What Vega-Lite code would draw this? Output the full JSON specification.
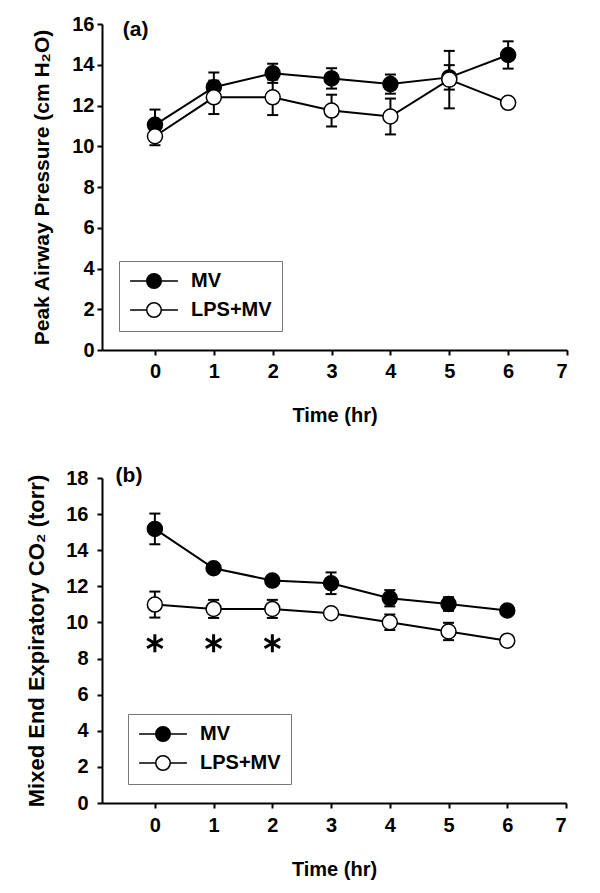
{
  "$schema": "https://vega.github.io/schema/vega-lite/v6.json",
  "padding": {"left": 25, "top": 14, "right": 5, "bottom": 5},
  "background": "white",
  "config": {
    "view": {"stroke": null},
    "font": "Liberation Sans",
    "axis": {
      "grid": false,
      "domainColor": "black", "domainWidth": 2,
      "tickColor": "black", "tickWidth": 2, "tickSize": 5,
      "labelFont": "Liberation Sans", "labelFontWeight": "bold", "labelFontSize": 20, "labelColor": "black", "labelOverlap": false,
      "titleFont": "Liberation Sans", "titleFontWeight": "bold", "titleFontSize": 20, "titleColor": "black", "titleLimit": 600
    },
    "legend": {
      "labelFont": "Liberation Sans", "labelFontWeight": "bold", "labelFontSize": 20, "labelColor": "black",
      "strokeColor": "#777777", "fillColor": "white", "padding": 10, "rowPadding": 7,
      "symbolType": "M -3.3 0 L -1 0 M 1 0 L 3.3 0 M -1 0 A 1 1 0 1 0 1 0 A 1 1 0 1 0 -1 0",
      "symbolSize": 210, "symbolStrokeColor": "black", "symbolStrokeWidth": 1.5,
      "symbolOffset": 15, "labelOffset": 27
    }
  },
  "datasets": {
    "a": [
      {"t": 0, "group": "MV", "v": 11.05, "lo": 10.3, "hi": 11.8},
      {"t": 1, "group": "MV", "v": 12.9, "lo": 12.18, "hi": 13.62},
      {"t": 2, "group": "MV", "v": 13.58, "lo": 13.11, "hi": 14.05},
      {"t": 3, "group": "MV", "v": 13.33, "lo": 12.83, "hi": 13.83},
      {"t": 4, "group": "MV", "v": 13.05, "lo": 12.58, "hi": 13.52},
      {"t": 5, "group": "MV", "v": 13.38, "lo": 12.78, "hi": 13.98},
      {"t": 6, "group": "MV", "v": 14.48, "lo": 13.81, "hi": 15.15},
      {"t": 0, "group": "LPS+MV", "v": 10.49, "lo": 10.05, "hi": 10.93},
      {"t": 1, "group": "LPS+MV", "v": 12.4, "lo": 11.58, "hi": 13.22},
      {"t": 2, "group": "LPS+MV", "v": 12.4, "lo": 11.53, "hi": 13.27},
      {"t": 3, "group": "LPS+MV", "v": 11.75, "lo": 10.97, "hi": 12.53},
      {"t": 4, "group": "LPS+MV", "v": 11.46, "lo": 10.58, "hi": 12.34},
      {"t": 5, "group": "LPS+MV", "v": 13.27, "lo": 11.86, "hi": 14.68},
      {"t": 6, "group": "LPS+MV", "v": 12.13, "lo": 11.93, "hi": 12.33}
    ],
    "b": [
      {"t": 0, "group": "MV", "v": 15.18, "lo": 14.33, "hi": 16.03},
      {"t": 1, "group": "MV", "v": 13.0, "lo": 12.8, "hi": 13.2},
      {"t": 2, "group": "MV", "v": 12.32, "lo": 12.12, "hi": 12.52},
      {"t": 3, "group": "MV", "v": 12.17, "lo": 11.57, "hi": 12.77},
      {"t": 4, "group": "MV", "v": 11.34, "lo": 10.89, "hi": 11.79},
      {"t": 5, "group": "MV", "v": 11.02, "lo": 10.64, "hi": 11.4},
      {"t": 6, "group": "MV", "v": 10.66, "lo": 10.46, "hi": 10.86},
      {"t": 0, "group": "LPS+MV", "v": 10.99, "lo": 10.27, "hi": 11.71},
      {"t": 1, "group": "LPS+MV", "v": 10.75, "lo": 10.25, "hi": 11.25},
      {"t": 2, "group": "LPS+MV", "v": 10.75, "lo": 10.25, "hi": 11.25},
      {"t": 3, "group": "LPS+MV", "v": 10.51, "lo": 10.31, "hi": 10.71},
      {"t": 4, "group": "LPS+MV", "v": 10.01, "lo": 9.58, "hi": 10.44},
      {"t": 5, "group": "LPS+MV", "v": 9.5, "lo": 9.02, "hi": 9.98},
      {"t": 6, "group": "LPS+MV", "v": 8.99, "lo": 8.79, "hi": 9.19}
    ]
  },
  "vconcat": [
    {
      "width": 465, "height": 326,
      "data": {"name": "a"},
      "encoding": {
        "x": {"field": "t", "type": "quantitative", "scale": {"domain": [-0.9, 7], "nice": false, "zero": false},
              "axis": {"values": [0, 1, 2, 3, 4, 5, 6, 7], "title": "Time (hr)", "labelPadding": 6, "titlePadding": 24}}
      },
      "layer": [
        {"mark": {"type": "line", "stroke": "black", "strokeWidth": 2},
         "encoding": {"y": {"field": "v", "type": "quantitative", "scale": {"domain": [0, 16], "nice": false},
                            "axis": {"values": [0, 2, 4, 6, 8, 10, 12, 14, 16], "labelOverlap": false, "title": "Peak Airway Pressure (cm H₂O)", "titleFontSize": 21, "labelPadding": 3, "titlePadding": 19}},
                      "detail": {"field": "group"}}},
        {"mark": {"type": "rule", "stroke": "black", "strokeWidth": 2},
         "encoding": {"y": {"field": "lo", "type": "quantitative", "axis": {"values": [0, 2, 4, 6, 8, 10, 12, 14, 16], "labelOverlap": false, "title": "Peak Airway Pressure (cm H₂O)", "titleFontSize": 21, "labelPadding": 3, "titlePadding": 19}}, "y2": {"field": "hi"}}},
        {"mark": {"type": "tick", "orient": "horizontal", "size": 11, "thickness": 2, "color": "black", "opacity": 1},
         "encoding": {"y": {"field": "lo", "type": "quantitative", "axis": {"values": [0, 2, 4, 6, 8, 10, 12, 14, 16], "labelOverlap": false, "title": "Peak Airway Pressure (cm H₂O)", "titleFontSize": 21, "labelPadding": 3, "titlePadding": 19}}}},
        {"mark": {"type": "tick", "orient": "horizontal", "size": 11, "thickness": 2, "color": "black", "opacity": 1},
         "encoding": {"y": {"field": "hi", "type": "quantitative", "axis": {"values": [0, 2, 4, 6, 8, 10, 12, 14, 16], "labelOverlap": false, "title": "Peak Airway Pressure (cm H₂O)", "titleFontSize": 21, "labelPadding": 3, "titlePadding": 19}}}},
        {"mark": {"type": "point", "shape": "circle", "size": 225, "stroke": "black", "strokeWidth": 1.5, "opacity": 1, "filled": true},
         "encoding": {"y": {"field": "v", "type": "quantitative", "axis": {"values": [0, 2, 4, 6, 8, 10, 12, 14, 16], "labelOverlap": false, "title": "Peak Airway Pressure (cm H₂O)", "titleFontSize": 21, "labelPadding": 3, "titlePadding": 19}},
                      "fill": {"field": "group", "type": "nominal", "scale": {"domain": ["MV", "LPS+MV"], "range": ["black", "white"]},
                               "legend": {"title": null, "orient": "none", "legendX": 17, "legendY": 237}}}},
        {"data": {"values": [{"t": -0.33, "v": 15.7, "txt": "(a)"}]},
         "mark": {"type": "text", "font": "Liberation Sans", "fontWeight": "bold", "fontSize": 21, "align": "center", "baseline": "middle", "color": "black"},
         "encoding": {"y": {"field": "v", "type": "quantitative", "axis": {"values": [0, 2, 4, 6, 8, 10, 12, 14, 16], "labelOverlap": false, "title": "Peak Airway Pressure (cm H₂O)", "titleFontSize": 21, "labelPadding": 3, "titlePadding": 19}}, "text": {"field": "txt"}}}
      ]
    },
    {
      "width": 464, "height": 325,
      "data": {"name": "b"},
      "encoding": {
        "x": {"field": "t", "type": "quantitative", "scale": {"domain": [-0.9, 7], "nice": false, "zero": false},
              "axis": {"values": [0, 1, 2, 3, 4, 5, 6, 7], "title": "Time (hr)", "labelPadding": 7, "titlePadding": 24}}
      },
      "layer": [
        {"mark": {"type": "line", "stroke": "black", "strokeWidth": 2},
         "encoding": {"y": {"field": "v", "type": "quantitative", "scale": {"domain": [0, 18], "nice": false},
                            "axis": {"values": [0, 2, 4, 6, 8, 10, 12, 14, 16, 18], "labelOverlap": false, "title": "Mixed End Expiratory CO₂ (torr)", "titleFontSize": 22, "labelPadding": 9, "titlePadding": 17}},
                      "detail": {"field": "group"}}},
        {"mark": {"type": "rule", "stroke": "black", "strokeWidth": 2},
         "encoding": {"y": {"field": "lo", "type": "quantitative", "axis": {"values": [0, 2, 4, 6, 8, 10, 12, 14, 16, 18], "labelOverlap": false, "title": "Mixed End Expiratory CO₂ (torr)", "titleFontSize": 22, "labelPadding": 9, "titlePadding": 17}}, "y2": {"field": "hi"}}},
        {"mark": {"type": "tick", "orient": "horizontal", "size": 11, "thickness": 2, "color": "black", "opacity": 1},
         "encoding": {"y": {"field": "lo", "type": "quantitative", "axis": {"values": [0, 2, 4, 6, 8, 10, 12, 14, 16, 18], "labelOverlap": false, "title": "Mixed End Expiratory CO₂ (torr)", "titleFontSize": 22, "labelPadding": 9, "titlePadding": 17}}}},
        {"mark": {"type": "tick", "orient": "horizontal", "size": 11, "thickness": 2, "color": "black", "opacity": 1},
         "encoding": {"y": {"field": "hi", "type": "quantitative", "axis": {"values": [0, 2, 4, 6, 8, 10, 12, 14, 16, 18], "labelOverlap": false, "title": "Mixed End Expiratory CO₂ (torr)", "titleFontSize": 22, "labelPadding": 9, "titlePadding": 17}}}},
        {"mark": {"type": "point", "shape": "circle", "size": 225, "stroke": "black", "strokeWidth": 1.5, "opacity": 1, "filled": true},
         "encoding": {"y": {"field": "v", "type": "quantitative", "axis": {"values": [0, 2, 4, 6, 8, 10, 12, 14, 16, 18], "labelOverlap": false, "title": "Mixed End Expiratory CO₂ (torr)", "titleFontSize": 22, "labelPadding": 9, "titlePadding": 17}},
                      "fill": {"field": "group", "type": "nominal", "scale": {"domain": ["MV", "LPS+MV"], "range": ["black", "white"]},
                               "legend": {"title": null, "orient": "none", "legendX": 26, "legendY": 236}}}},
        {"data": {"values": [{"t": -0.44, "v": 18.1, "txt": "(b)"}]},
         "mark": {"type": "text", "font": "Liberation Sans", "fontWeight": "bold", "fontSize": 21, "align": "center", "baseline": "middle", "color": "black"},
         "encoding": {"y": {"field": "v", "type": "quantitative", "axis": {"values": [0, 2, 4, 6, 8, 10, 12, 14, 16, 18], "labelOverlap": false, "title": "Mixed End Expiratory CO₂ (torr)", "titleFontSize": 22, "labelPadding": 9, "titlePadding": 17}}, "text": {"field": "txt"}}},
        {"data": {"values": [{"t": 0, "v": 8.85}, {"t": 1, "v": 8.85}, {"t": 2, "v": 8.85}]},
         "mark": {"type": "point", "shape": "M 0 -1 L 0 1 M -0.866 -0.5 L 0.866 0.5 M -0.866 0.5 L 0.866 -0.5", "size": 324, "stroke": "black", "strokeWidth": 3, "opacity": 1, "filled": false},
         "encoding": {"y": {"field": "v", "type": "quantitative", "axis": {"values": [0, 2, 4, 6, 8, 10, 12, 14, 16, 18], "labelOverlap": false, "title": "Mixed End Expiratory CO₂ (torr)", "titleFontSize": 22, "labelPadding": 9, "titlePadding": 17}}}}
      ]
    }
  ],
  "align": "none",
  "spacing": 40,
  "resolve": {"scale": {"fill": "independent", "x": "independent", "y": "independent"}, "legend": {"fill": "independent"}}
}
